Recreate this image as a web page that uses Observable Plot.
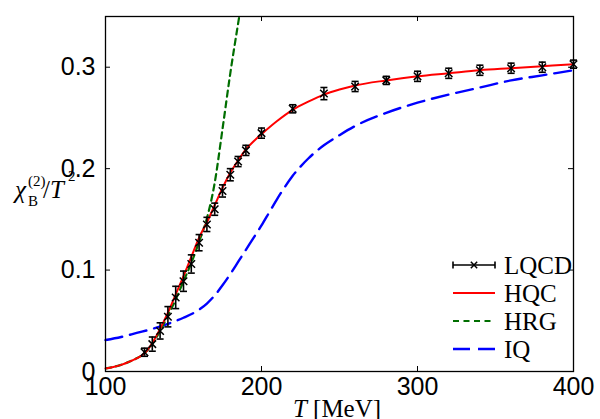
<!DOCTYPE html>
<html>
<head>
<meta charset="utf-8">
<script src="https://cdn.jsdelivr.net/npm/d3@7"></script>
<script src="https://cdn.jsdelivr.net/npm/@observablehq/plot@0.6"></script>
<style>
  html, body { margin: 0; padding: 0; background: #fff; }
  #chart { position: relative; width: 600px; height: 419px; overflow: hidden; }
  #overlay { position: absolute; left: 0; top: 0; pointer-events: none; }
</style>
</head>
<body>
<div id="chart"></div>
<script>
// Lattice QCD baryon-number susceptibility chi_B^(2)/T^2 with errors
const lqcdT   = [125, 130, 135, 140, 145, 150, 155, 160, 165, 170, 175, 180, 185, 190, 200, 220, 240, 260, 280, 300, 320, 340, 360, 380, 400];
const lqcdVal = [0.019, 0.027, 0.040, 0.054, 0.073, 0.089, 0.106, 0.127, 0.145, 0.160, 0.178, 0.194, 0.207, 0.218, 0.235, 0.259, 0.274, 0.281, 0.287, 0.291, 0.294, 0.297, 0.299, 0.300, 0.303];
const lqcdErr = [0.004, 0.007, 0.008, 0.010, 0.011, 0.010, 0.009, 0.008, 0.007, 0.006, 0.006, 0.006, 0.005, 0.005, 0.005, 0.004, 0.006, 0.005, 0.004, 0.005, 0.005, 0.005, 0.005, 0.005, 0.004];

// Hadron-quark crossover model
const hqcT   = [100, 105, 110, 115, 120, 125, 130, 135, 140, 145, 150, 155, 160, 165, 170, 175, 180, 185, 190, 195, 200, 210, 220, 230, 240, 250, 260, 280, 300, 320, 340, 360, 380, 400];
const hqcVal = [0.003, 0.0045, 0.0065, 0.0095, 0.013, 0.018, 0.028, 0.042, 0.058, 0.076, 0.094, 0.113, 0.132, 0.147, 0.164, 0.181, 0.196, 0.208, 0.219, 0.227, 0.234, 0.247, 0.258, 0.266, 0.273, 0.278, 0.282, 0.287, 0.291, 0.294, 0.297, 0.299, 0.301, 0.303];

// Hadron resonance gas
const hrgT   = [100, 105, 110, 115, 120, 125, 130, 135, 140, 145, 150, 155, 160, 165, 170, 175, 180, 185, 190];
const hrgVal = [0.003, 0.0045, 0.0065, 0.0095, 0.013, 0.018, 0.027, 0.040, 0.055, 0.071, 0.089, 0.107, 0.128, 0.151, 0.186, 0.239, 0.294, 0.343, 0.390];

// Independent quark model
const iqT   = [100, 110, 120, 130, 140, 150, 160, 165, 170, 175, 180, 185, 190, 195, 200, 205, 210, 215, 220, 225, 230, 235, 240, 250, 260, 280, 300, 320, 340, 360, 380, 400];
const iqVal = [0.031, 0.034, 0.038, 0.042, 0.047, 0.053, 0.061, 0.067, 0.075, 0.085, 0.096, 0.108, 0.120, 0.132, 0.144, 0.157, 0.170, 0.182, 0.193, 0.202, 0.210, 0.217, 0.223, 0.233, 0.242, 0.255, 0.265, 0.273, 0.280, 0.287, 0.292, 0.297];

// Axis ticks
const xTicks = [100, 200, 300, 400];
const yTicks = [0, 0.1, 0.2, 0.3];
const yTickLabels = ["0", "0.1", "0.2", "0.3"];

// Legend entries
const legendNames = ["LQCD", "HQC", "HRG", "IQ"];

const W = 600, H = 419;
const mL = 105, mR = 27, mT = 16, mB = 48;
const innerW = W - mL - mR, innerH = H - mT - mB;
const tickLen = 5;
const serif = "Liberation Serif";

const lqcd = lqcdT.map((T, i) => ({T, v: lqcdVal[i], lo: lqcdVal[i] - lqcdErr[i], hi: lqcdVal[i] + lqcdErr[i]}));
const hqc = hqcT.map((T, i) => ({T, v: hqcVal[i]}));
const hrg = hrgT.map((T, i) => ({T, v: hrgVal[i]}));
const iq = iqT.map((T, i) => ({T, v: iqVal[i]}));

// horizontal cap for error bars
const capSymbol = {draw(ctx) { ctx.moveTo(-3.5, 0); ctx.lineTo(3.5, 0); }};

const plot = Plot.plot({
  width: W, height: H,
  marginLeft: mL, marginRight: mR, marginTop: mT, marginBottom: mB,
  style: {fontFamily: "Liberation Sans", fontSize: "25px", background: "white", color: "black"},
  x: {domain: [100, 400]},
  y: {domain: [0, 0.35]},
  marks: [
    Plot.line(iq, {x: "T", y: "v", stroke: "#0000ff", strokeWidth: 2.4, strokeDasharray: "17,8", curve: "monotone-x"}),
    Plot.line(hrg, {x: "T", y: "v", stroke: "#006e00", strokeWidth: 2.2, strokeDasharray: "6,4.5", curve: "monotone-x", clip: true}),
    Plot.line(hqc, {x: "T", y: "v", stroke: "#ff0000", strokeWidth: 2, curve: "monotone-x"}),
    Plot.ruleX(lqcd, {x: "T", y1: "lo", y2: "hi", stroke: "black", strokeWidth: 1.6}),
    Plot.dot(lqcd, {x: "T", y: "lo", symbol: capSymbol, stroke: "black", strokeWidth: 1.6, fill: "none"}),
    Plot.dot(lqcd, {x: "T", y: "hi", symbol: capSymbol, stroke: "black", strokeWidth: 1.6, fill: "none"}),
    Plot.dot(lqcd, {x: "T", y: "v", symbol: "times", r: 3.5, stroke: "black", strokeWidth: 1.5}),
    // inward ticks on all four sides
    Plot.ruleY(yTicks, {y: d => d, insetRight: innerW - tickLen, stroke: "black", strokeWidth: 1}),
    Plot.ruleY(yTicks, {y: d => d, insetLeft: innerW - tickLen, stroke: "black", strokeWidth: 1}),
    Plot.ruleX(xTicks, {x: d => d, insetTop: innerH - tickLen, stroke: "black", strokeWidth: 1}),
    Plot.ruleX(xTicks, {x: d => d, insetBottom: innerH - tickLen, stroke: "black", strokeWidth: 1}),
    Plot.axisX({ticks: xTicks, tickSize: 0, tickPadding: 6, label: null}),
    Plot.axisY({ticks: yTicks, tickSize: 0, tickPadding: 10, label: null, tickFormat: d => yTickLabels[yTicks.indexOf(d)]}),
    Plot.frame({stroke: "black", strokeWidth: 1.3})
  ]
});

const chart = document.getElementById("chart");
chart.appendChild(plot);

// Axis titles and legend, in a serif face
const svg = d3.select(chart).append("svg")
  .attr("id", "overlay").attr("width", W).attr("height", H);

const txt = (sel, x, y, size) => sel.append("text").attr("x", x).attr("y", y)
  .attr("font-family", serif).attr("font-size", size).attr("fill", "black");

const yl = svg.append("g");
txt(yl, 15, 198, 25).attr("font-style", "italic").text("χ");
txt(yl, 28, 206, 15).text("B");
txt(yl, 28, 186, 15).text("(2)");
txt(yl, 43, 198, 25).call(t => { t.append("tspan").text("/"); t.append("tspan").attr("font-style", "italic").text("T"); });
txt(yl, 68, 181, 15).text("2");

txt(svg, 337, 417, 25).attr("text-anchor", "middle")
  .call(t => { t.append("tspan").attr("font-style", "italic").text("T"); t.append("tspan").text(" [MeV]"); });

const lx1 = 453, lx2 = 495, ltx = 504;
const rowY = [265, 293, 321, 349];
const lg = svg.append("g");
// LQCD swatch: error bar style line with end caps and cross marker
lg.append("line").attr("x1", lx1).attr("x2", lx2).attr("y1", rowY[0]).attr("y2", rowY[0]).attr("stroke", "black").attr("stroke-width", 1.6);
[lx1, lx2].forEach(x => lg.append("line").attr("x1", x).attr("x2", x).attr("y1", rowY[0] - 3.5).attr("y2", rowY[0] + 3.5).attr("stroke", "black").attr("stroke-width", 1.6));
lg.append("path").attr("d", d3.symbol(d3.symbolTimes, 28)()).attr("transform", `translate(${(lx1 + lx2) / 2},${rowY[0]})`).attr("stroke", "black").attr("stroke-width", 1.5).attr("fill", "none");
lg.append("line").attr("x1", lx1).attr("x2", lx2).attr("y1", rowY[1]).attr("y2", rowY[1]).attr("stroke", "#ff0000").attr("stroke-width", 2);
lg.append("line").attr("x1", lx1).attr("x2", lx2).attr("y1", rowY[2]).attr("y2", rowY[2]).attr("stroke", "#006e00").attr("stroke-width", 2.2).attr("stroke-dasharray", "6,4.5");
lg.append("line").attr("x1", lx1).attr("x2", lx2).attr("y1", rowY[3]).attr("y2", rowY[3]).attr("stroke", "#0000ff").attr("stroke-width", 2.4).attr("stroke-dasharray", "17,8");
legendNames.forEach((name, i) => txt(lg, ltx, rowY[i] + 8.5, 25).text(name));
</script>
</body>
</html>
